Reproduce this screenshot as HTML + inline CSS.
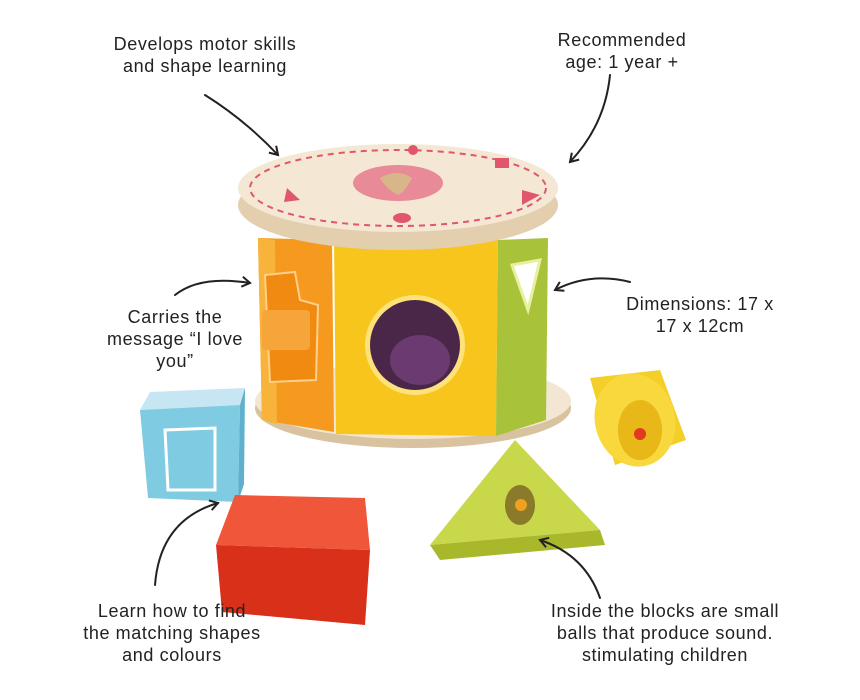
<!DOCTYPE html>
<html><head><meta charset="utf-8"><style>
html,body{margin:0;padding:0;background:#fff;}
svg{display:block}
text{font-family:"Liberation Sans",sans-serif;font-size:18px;letter-spacing:0.6px;fill:#222;}
</style></head><body>
<svg width="860" height="700" viewBox="0 0 860 700">
<defs>
<marker id="ah" markerWidth="12" markerHeight="12" refX="9" refY="6" orient="auto" markerUnits="userSpaceOnUse">
<path d="M1,1 L9,6 L1,11" fill="none" stroke="#222" stroke-width="2"/>
</marker>
</defs>
<!-- base -->
<ellipse cx="413" cy="408" rx="158" ry="40" fill="#d9c2a0"/>
<ellipse cx="413" cy="401" rx="158" ry="38" fill="#f3e6d2"/>
<!-- body faces -->
<path d="M258,238 L332,240 L334,432 L262,420 Z" fill="#f59a1f"/>
<path d="M334,240 L498,240 L496,436 L336,434 Z" fill="#f8c51c"/>
<path d="M498,240 L548,238 L546,420 L496,436 Z" fill="#a8c23a"/>
<path d="M258,238 L275,240 L277,424 L262,420 Z" fill="#f7b33a"/>
<circle cx="415" cy="345" r="50" fill="#fde27a"/>
<circle cx="415" cy="345" r="45" fill="#4a2748"/>
<ellipse cx="420" cy="360" rx="30" ry="25" fill="#6a3a70"/>
<path d="M512,265 L540,260 L528,310 Z" fill="#fff" stroke="#e8f0a0" stroke-width="3"/>
<path d="M265,275 L295,272 L300,300 L318,305 L316,380 L270,382 Z" fill="#f08a10" stroke="#ffd089" stroke-width="2"/>
<rect x="262" y="310" width="48" height="40" rx="4" fill="#f6a53a"/>
<!-- lid -->
<ellipse cx="398" cy="205" rx="160" ry="45" fill="#e3cfae"/>
<ellipse cx="398" cy="188" rx="160" ry="44" fill="#f4e7d4"/>
<ellipse cx="398" cy="188" rx="148" ry="38" fill="none" stroke="#e0566a" stroke-width="2" stroke-dasharray="6,5"/>
<ellipse cx="398" cy="183" rx="45" ry="18" fill="#e88a98"/>
<path d="M380,178 Q398,168 412,178 Q405,192 398,195 Q385,188 380,178Z" fill="#d9b58a"/>
<circle cx="413" cy="150" r="5" fill="#e0566a"/>
<rect x="495" y="158" width="14" height="10" fill="#e0566a"/>
<path d="M522,190 L540,195 L522,205Z" fill="#e0566a"/>
<ellipse cx="402" cy="218" rx="9" ry="5" fill="#e0566a"/>
<path d="M287,188 L300,200 L284,202Z" fill="#e0566a"/>
<!-- blue cube -->
<path d="M140,410 L150,392 L245,388 L240,405 Z" fill="#c6e6f3"/>
<path d="M140,410 L240,405 L238,502 L148,498 Z" fill="#7fcbe2"/>
<path d="M240,405 L245,388 L244,484 L238,502Z" fill="#5fb0cc"/>
<path d="M165,430 L215,428 L215,490 L168,490 Z" fill="none" stroke="#fff" stroke-width="3"/>
<!-- red block -->
<path d="M216,545 L235,495 L365,498 L370,550 Z" fill="#f0563a"/>
<path d="M216,545 L370,550 L365,625 L222,612 Z" fill="#d9301a"/>
<!-- green triangle -->
<path d="M515,440 L430,545 L600,530 Z" fill="#c9d84a"/>
<path d="M430,545 L600,530 L605,545 L440,560 Z" fill="#a8b82a"/>
<ellipse cx="520" cy="505" rx="15" ry="20" fill="#8a7a2a"/>
<circle cx="521" cy="505" r="6" fill="#f2a020"/>
<!-- yellow cylinder -->
<path d="M590,378 L660,370 L686,440 L615,465 Z" fill="#f4cf2a"/>
<ellipse cx="635" cy="420" rx="40" ry="47" transform="rotate(-15 635 420)" fill="#f8d83c"/>
<ellipse cx="640" cy="430" rx="22" ry="30" fill="#e8b818"/>
<circle cx="640" cy="434" r="6" fill="#e03a20"/>
<!-- arrows -->
<g fill="none" stroke="#222" stroke-width="2" stroke-linecap="round">
<path d="M205,95 Q245,120 278,155" marker-end="url(#ah)"/>
<path d="M610,75 Q605,125 570,162" marker-end="url(#ah)"/>
<path d="M175,295 Q200,275 250,283" marker-end="url(#ah)"/>
<path d="M630,282 Q590,272 555,290" marker-end="url(#ah)"/>
<path d="M155,585 Q160,520 218,503" marker-end="url(#ah)"/>
<path d="M600,598 Q585,555 540,540" marker-end="url(#ah)"/>
</g>
<!-- labels -->
<g text-anchor="middle">
<text x="205" y="50">Develops motor skills</text>
<text x="205" y="72">and shape learning</text>
<text x="622" y="46">Recommended</text>
<text x="622" y="68">age: 1 year +</text>
<text x="175" y="323">Carries the</text>
<text x="175" y="345">message “I love</text>
<text x="175" y="367">you”</text>
<text x="700" y="310">Dimensions: 17 x</text>
<text x="700" y="332">17 x 12cm</text>
<text x="172" y="617">Learn how to find</text>
<text x="172" y="639">the matching shapes</text>
<text x="172" y="661">and colours</text>
<text x="665" y="617">Inside the blocks are small</text>
<text x="665" y="639">balls that produce sound.</text>
<text x="665" y="661">stimulating children</text>
</g>
</svg>
</body></html>
